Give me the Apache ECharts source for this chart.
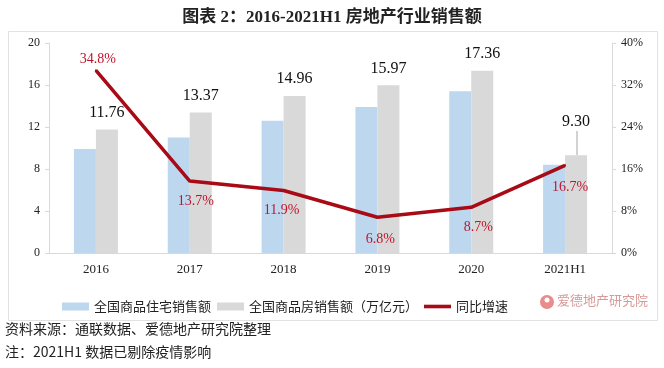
<!DOCTYPE html>
<html><head><meta charset="utf-8">
<script src="https://cdn.jsdelivr.net/npm/echarts@6/dist/echarts.min.js"></script>
<style>html,body{margin:0;padding:0;background:#fff}#c{width:664px;height:368px}</style>
</head><body><div id="c"></div>
<script>
const categories = ['2016','2017','2018','2019','2020','2021H1'];
const residentialSales = [9.9, 11.0, 12.6, 13.9, 15.4, 8.4];
const totalSales = [11.76, 13.37, 14.96, 15.97, 17.36, 9.30];
const yoyGrowth = [34.8, 13.7, 11.9, 6.8, 8.7, 16.7];
const leftTicks = [0, 4, 8, 12, 16, 20];
const rightTicks = [0, 8, 16, 24, 32, 40];

const NUM = '"Liberation Serif","Noto Sans CJK SC",serif';
const CJK = '"Noto Sans CJK SC","Liberation Serif",sans-serif';
const chart = echarts.init(document.getElementById('c'));

const lineLabelPos = [
  {position:'top', distance:3, offset:[2,0]},
  {position:'bottom', distance:12, offset:[6,0]},
  {position:'bottom', distance:12, offset:[-2,0]},
  {position:'bottom', distance:14, offset:[3,0]},
  {position:'bottom', distance:12, offset:[7,0]},
  {position:'bottom', distance:14, offset:[5,0]}
];
const lineLabel = {show:true, fontFamily:NUM, fontSize:14, color:'#C0142A', formatter:p=>Number(p.value).toFixed(1)+'%'};

chart.setOption({
  animation:false,
  backgroundColor:'#fff',
  title:{text:'图表 2：2016-2021H1 房地产行业销售额', left:'center', top:4,
    textStyle:{fontFamily:NUM, fontSize:17, fontWeight:'bold', color:'#222'}},
  grid:{left:49, right:52, top:43, bottom:115},
  legend:{left:57, top:295, itemWidth:27, itemHeight:8, itemGap:6,
    textStyle:{fontFamily:CJK, fontSize:13, color:'#222'},
    data:[{name:'全国商品住宅销售额', icon:'rect'},{name:'全国商品房销售额（万亿元）', icon:'rect'},
          {name:'同比增速', icon:'path://M0,0 L30,0 L30,4 L0,4 Z'}]},
  xAxis:{type:'category', data:categories,
    axisLine:{lineStyle:{color:'#d9d9d9'}}, axisTick:{show:false},
    axisLabel:{fontFamily:NUM, fontSize:13, color:'#222', margin:10}},
  yAxis:[
    {type:'value', min:leftTicks[0], max:leftTicks[leftTicks.length-1], interval:4,
     axisLine:{show:true, lineStyle:{color:'#d9d9d9'}}, axisTick:{show:true, length:4, lineStyle:{color:'#d9d9d9'}},
     splitLine:{show:false},
     axisLabel:{fontFamily:NUM, fontSize:12, color:'#222', margin:9}},
    {type:'value', min:rightTicks[0], max:rightTicks[rightTicks.length-1], interval:8,
     axisLine:{show:true, lineStyle:{color:'#d9d9d9'}}, axisTick:{show:true, length:4, lineStyle:{color:'#d9d9d9'}},
     splitLine:{show:false},
     axisLabel:{fontFamily:NUM, fontSize:12, color:'#222', margin:9, formatter:'{value}%'}}
  ],
  series:[
    {name:'全国商品住宅销售额', type:'bar', data:residentialSales, barWidth:22, barGap:'0%',
     itemStyle:{color:'#BDD7EE'}},
    {name:'全国商品房销售额（万亿元）', type:'bar', data:totalSales.map((v,i)=> i===5 ? {value:v, label:{show:true, distance:26}} : v), barWidth:22,
     itemStyle:{color:'#D9D9D9'},
     label:{show:true, position:'top', distance:9, fontFamily:NUM, fontSize:16, color:'#111', formatter:p=>Number(p.value).toFixed(2)}},
    {name:'同比增速', type:'line', yAxisIndex:1,
     data:yoyGrowth.map((v,i)=>({value:v, label:Object.assign({}, lineLabel, lineLabelPos[i])})),
     symbol:'circle', symbolSize:2, showSymbol:true, showAllSymbol:true,
     lineStyle:{color:'#A80A16', width:3.5}, itemStyle:{color:'#A80A16'},
     label:lineLabel, z:5}
  ],
  graphic:[
    {type:'rect', shape:{x:8.5, y:31.5, width:649, height:289}, style:{fill:'none', stroke:'#e2e2e2', lineWidth:1}, z:-1},
    {type:'line', shape:{x1:577, y1:131, x2:577, y2:155}, style:{stroke:'#a6a6a6', lineWidth:1}},
    {type:'circle', shape:{cx:547, cy:302, r:7}, style:{fill:'#E98C8C'}},
    {type:'circle', shape:{cx:547, cy:300, r:2.5}, style:{fill:'#fff'}},
    {type:'text', left:557, top:294, style:{text:'爱德地产研究院', font:'13px "Noto Sans CJK SC"', fill:'#D79A9A'}},
    {type:'text', left:5, top:322, style:{text:'资料来源：通联数据、爱德地产研究院整理', font:'14px "Noto Sans CJK SC"', fill:'#222'}},
    {type:'text', left:5, top:345, style:{text:'注：2021H1 数据已剔除疫情影响', font:'14px "Noto Sans CJK SC"', fill:'#222'}}
  ]
});
</script></body></html>
